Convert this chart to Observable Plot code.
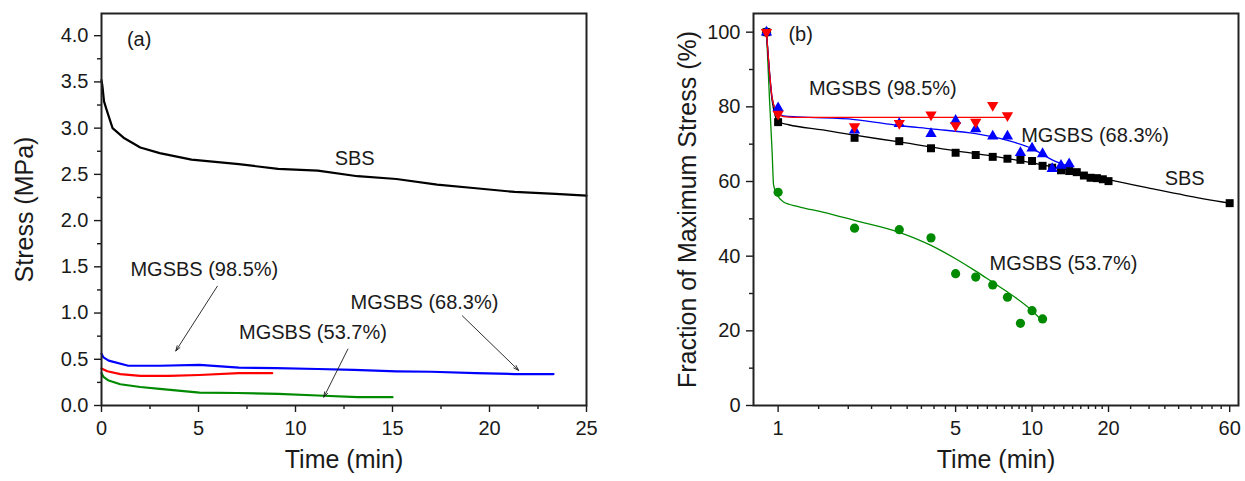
<!DOCTYPE html>
<html><head><meta charset="utf-8">
<script src="https://cdn.jsdelivr.net/npm/d3@7"></script>
<script src="https://cdn.jsdelivr.net/npm/@observablehq/plot@0.6"></script>
<style>
html,body{margin:0;padding:0;background:#fff;overflow:hidden;width:1245px;height:481px;}
#wrap{position:relative;width:1245px;height:481px;}
#wrap svg{max-width:none;position:absolute;top:0;}
</style></head><body><div id="wrap"></div>
<script>
// ---------- Panel (a): stress relaxation curves ----------
const timeSBS_a   = [0, 0.05, 0.13, 0.26, 0.57, 1.18, 2.0, 3.0, 4.64, 7.08, 9.1, 11.15, 13.2, 15.2, 17.3, 19.3, 21.3, 23.4, 25];
const stressSBS_a = [3.52, 3.45, 3.29, 3.2, 3.0, 2.89, 2.79, 2.73, 2.66, 2.61, 2.56, 2.54, 2.48, 2.45, 2.39, 2.35, 2.31, 2.29, 2.27];
const time683_a   = [0, 0.1, 0.37, 1.38, 3, 5.05, 7.08, 9, 11.15, 13, 15.2, 17, 19.3, 21.3, 23.3];
const stress683_a = [0.56, 0.52, 0.485, 0.43, 0.43, 0.44, 0.41, 0.405, 0.395, 0.385, 0.37, 0.365, 0.35, 0.34, 0.34];
const time985_a   = [0, 0.3, 0.97, 2.0, 3.5, 5.05, 7.08, 8.8];
const stress985_a = [0.40, 0.37, 0.34, 0.32, 0.32, 0.33, 0.35, 0.35];
const time537_a   = [0, 0.1, 0.37, 0.97, 2, 3, 5.05, 7, 9.1, 11.15, 13.2, 15];
const stress537_a = [0.35, 0.31, 0.27, 0.23, 0.2, 0.18, 0.14, 0.135, 0.126, 0.108, 0.09, 0.09];

const xTicksA = [0, 5, 10, 15, 20, 25];
const yTicksA = [0, 0.5, 1.0, 1.5, 2.0, 2.5, 3.0, 3.5, 4.0];
const xMinorA = [2.5, 7.5, 12.5, 17.5, 22.5];
const yMinorA = [0.25, 0.75, 1.25, 1.75, 2.25, 2.75, 3.25, 3.75];

const labelTextA = ["(a)", "SBS", "MGSBS (98.5%)", "MGSBS (53.7%)", "MGSBS (68.3%)"];
const labelXA    = [1.94, 13.05, 5.3, 10.9, 16.65];
const labelYA    = [3.955, 2.67, 1.475, 0.79, 1.11];
const arrowX1A = [5.97, 12.7, 18.6];
const arrowY1A = [1.29, 0.61, 0.97];
const arrowX2A = [3.83, 11.46, 21.5];
const arrowY2A = [0.59, 0.09, 0.38];

// ---------- Panel (b): fraction of maximum stress ----------
const timeSBS_b = [0.9, 1, 2, 3, 4, 5, 6, 7, 8, 9, 10, 11, 12, 13, 14, 15, 16, 17, 18, 19, 20, 60];
const fracSBS_b = [100, 75.9, 71.7, 70.8, 68.9, 67.7, 67.1, 66.6, 66.1, 65.8, 65.5, 64.2, 63.7, 63.0, 62.8, 62.5, 61.6, 61.0, 60.9, 60.6, 60.1, 54.2];
const time683_b = [0.9, 1, 2, 3, 4, 5, 6, 7, 8, 9, 10, 11, 12, 13, 14];
const frac683_b = [100, 79.7, 73.7, 75.5, 72.8, 76.3, 74.1, 72.1, 72.1, 67.7, 68.9, 67.4, 63.4, 64.3, 64.7];
const time985_b = [0.9, 1, 2, 3, 4, 5, 6, 7, 8];
const frac985_b = [100, 78.1, 74.7, 75.6, 77.9, 75.0, 75.9, 80.4, 77.7];
const time537_b = [0.9, 1, 2, 3, 4, 5, 6, 7, 8, 9, 10, 11];
const frac537_b = [100, 57.1, 47.5, 47.1, 44.9, 35.3, 34.4, 32.3, 29.0, 22.0, 25.4, 23.2];

// fitted curves
const fitTimeSBS = [0.9, 0.947, 0.975, 1.0, 1.1, 1.5, 2, 3, 5, 7, 10, 14, 20, 30, 40, 60];
const fitFracSBS = [100, 81.7, 77.5, 76.0, 75.2, 73.8, 72.4, 70.6, 68.2, 66.8, 65.0, 63.0, 60.5, 58.0, 56.3, 54.2];
const fitTime683 = [0.9, 0.947, 0.98, 1.0, 1.05, 1.2, 2, 3, 4, 6, 8, 10, 12, 14];
const fitFrac683 = [100, 82.5, 79, 78.2, 77.6, 77.3, 76.6, 75.0, 74.1, 72.8, 71.0, 68.8, 65.8, 64.0];
const fitTime985 = [0.9, 0.947, 0.98, 1.0, 1.05, 1.15, 8];
const fitFrac985 = [100, 82.5, 79, 78.0, 77.4, 77.2, 77.2];
const fitTime537 = [0.9, 0.925, 0.947, 0.96, 0.99, 1.05, 1.2, 1.5, 2, 3, 4, 5, 6, 7, 8, 10, 11];
const fitFrac537 = [100, 82, 68, 59, 56.5, 54.5, 53.3, 51.8, 49.6, 46.4, 42.9, 39.3, 36.0, 33.0, 30.4, 25.4, 22.6];

const xTicksB = [1, 5, 10, 20, 60];
const yTicksB = [0, 20, 40, 60, 80, 100];
const yMinorB = [10, 30, 50, 70, 90];

const labelTextB = ["(b)", "MGSBS (98.5%)", "MGSBS (68.3%)", "SBS", "MGSBS (53.7%)"];
const labelXB    = [1.227, 2.585, 17.7, 39.9, 13.3];
const labelYB    = [99.4, 84.8, 72.3, 60.7, 37.9];

// ---------- helpers ----------
const zip = (xs, ys) => xs.map((v, i) => ({x: v, y: ys[i]}));
const FONT = "'Liberation Sans', Arial, Helvetica, sans-serif";
const INK = "#1a1a1a";
const RED = "#ff0000", BLUE = "#0000ff", GREEN = "#008a00", BLACK = "#000000";

// minor ticks of the log axis: 8 evenly spaced ticks inside each major interval
const xMinorB = [];
for (let i = 0; i < xTicksB.length - 1; i++) {
  const a = xTicksB[i], b = xTicksB[i + 1];
  for (let k = 1; k <= 8; k++) xMinorB.push(a + (b - a) * k / 9);
}

const triangleDown = {
  draw(context, size) {
    const y = Math.sqrt(size / (Math.sqrt(3) * 3));
    context.moveTo(0, 2 * y);
    context.lineTo(Math.sqrt(3) * y, -y);
    context.lineTo(-Math.sqrt(3) * y, -y);
    context.closePath();
  }
};

const tickStyle = {stroke: INK, strokeWidth: 1.4};
const styleObj = {fontFamily: FONT, fontSize: "20px", color: INK, background: "transparent", overflow: "visible"};

// ---------- Panel (a) ----------
const labelsA = labelTextA.map((t, i) => ({label: t, x: labelXA[i], y: labelYA[i]}));
const arrowsA = arrowX1A.map((v, i) => ({x1: v, y1: arrowY1A[i], x2: arrowX2A[i], y2: arrowY2A[i]}));

const plotA = Plot.plot({
  width: 622, height: 481,
  marginLeft: 101, marginRight: 36, marginTop: 13, marginBottom: 76,
  x: {domain: [0, 25], label: null},
  y: {domain: [0, 4.24], label: null},
  style: styleObj,
  marks: [
    Plot.axisX({ticks: xTicksA, tickSize: 7, tickPadding: 8, tickFormat: d => String(d), fontSize: 20, label: null, ...tickStyle}),
    Plot.axisX({ticks: xMinorA, tickSize: 4, tickFormat: () => "", label: null, ...tickStyle}),
    Plot.axisY({ticks: yTicksA, tickSize: 7, tickPadding: 6, tickFormat: d3.format(".1f"), fontSize: 20, label: null, ...tickStyle}),
    Plot.axisY({ticks: yMinorA, tickSize: 4, tickFormat: () => "", label: null, ...tickStyle}),
    Plot.line(zip(time537_a, stress537_a), {x: "x", y: "y", stroke: GREEN, strokeWidth: 2.2}),
    Plot.line(zip(time985_a, stress985_a), {x: "x", y: "y", stroke: RED, strokeWidth: 2.2}),
    Plot.line(zip(time683_a, stress683_a), {x: "x", y: "y", stroke: BLUE, strokeWidth: 2.2}),
    Plot.line(zip(timeSBS_a, stressSBS_a), {x: "x", y: "y", stroke: BLACK, strokeWidth: 2.2}),
    Plot.arrow(arrowsA, {x1: "x1", y1: "y1", x2: "x2", y2: "y2", stroke: INK, strokeWidth: 0.9, headLength: 9, headAngle: 36}),
    Plot.text(labelsA, {x: "x", y: "y", text: "label", fontSize: 20, fill: INK}),
    Plot.text(["Stress (MPa)"], {text: d => d, frameAnchor: "left", textAnchor: "middle", dx: -77, rotate: -90, fontSize: 25, fill: INK}),
    Plot.text(["Time (min)"], {text: d => d, frameAnchor: "bottom", textAnchor: "middle", dy: 62, fontSize: 25, fill: INK}),
    Plot.frame({stroke: "#222", strokeWidth: 2})
  ]
});

// ---------- Panel (b) ----------
const labelsB = labelTextB.map((t, i) => ({label: t, x: labelXB[i], y: labelYB[i]}));
const plotB = Plot.plot({
  width: 623, height: 481,
  marginLeft: 131, marginRight: 7, marginTop: 13, marginBottom: 76,
  x: {type: "log", domain: [0.8, 65], label: null},
  y: {domain: [0, 105], label: null},
  style: styleObj,
  marks: [
    Plot.axisX({ticks: xTicksB, tickSize: 7, tickFormat: () => "", label: null, ...tickStyle}),
    Plot.text(xTicksB, {x: d => d, text: d => String(d), frameAnchor: "bottom", lineAnchor: "top", dy: 15, fontSize: 20, fill: INK}),
    Plot.axisX({ticks: xMinorB, tickSize: 4, tickFormat: () => "", label: null, ...tickStyle}),
    Plot.axisY({ticks: yTicksB, tickSize: 7, tickPadding: 6, tickFormat: d => String(d), fontSize: 20, label: null, ...tickStyle}),
    Plot.axisY({ticks: yMinorB, tickSize: 4, tickFormat: () => "", label: null, ...tickStyle}),
    Plot.line(zip(fitTime537, fitFrac537), {x: "x", y: "y", stroke: GREEN, strokeWidth: 1.3, curve: "monotone-x"}),
    Plot.line(zip(fitTimeSBS, fitFracSBS), {x: "x", y: "y", stroke: BLACK, strokeWidth: 1.3, curve: "monotone-x"}),
    Plot.line(zip(fitTime683, fitFrac683), {x: "x", y: "y", stroke: BLUE, strokeWidth: 1.3, curve: "monotone-x"}),
    Plot.line(zip(fitTime985, fitFrac985), {x: "x", y: "y", stroke: RED, strokeWidth: 1.3, curve: "monotone-x"}),
    Plot.dot(zip(time537_b, frac537_b), {x: "x", y: "y", r: 4.6, fill: GREEN, stroke: "none"}),
    Plot.dot(zip(timeSBS_b, fracSBS_b), {x: "x", y: "y", r: 4.5, symbol: "square", fill: BLACK, stroke: "none"}),
    Plot.dot(zip(time683_b, frac683_b), {x: "x", y: "y", r: 4.2, symbol: "triangle", fill: BLUE, stroke: "none"}),
    Plot.dot(zip(time985_b, frac985_b), {x: "x", y: "y", r: 4.2, symbol: triangleDown, fill: RED, stroke: "none"}),
    Plot.text(labelsB, {x: "x", y: "y", text: "label", fontSize: 20, fill: INK}),
    Plot.text(["Fraction of Maximum Stress (%)"], {text: d => d, frameAnchor: "left", textAnchor: "middle", dx: -66, rotate: -90, fontSize: 25, fill: INK}),
    Plot.text(["Time (min)"], {text: d => d, frameAnchor: "bottom", textAnchor: "middle", dy: 62, fontSize: 25, fill: INK}),
    Plot.frame({stroke: "#222", strokeWidth: 2})
  ]
});

const wrap = document.getElementById("wrap");
plotA.style.left = "0px";
plotB.style.left = "622px";
wrap.appendChild(plotA);
wrap.appendChild(plotB);
</script></body></html>
